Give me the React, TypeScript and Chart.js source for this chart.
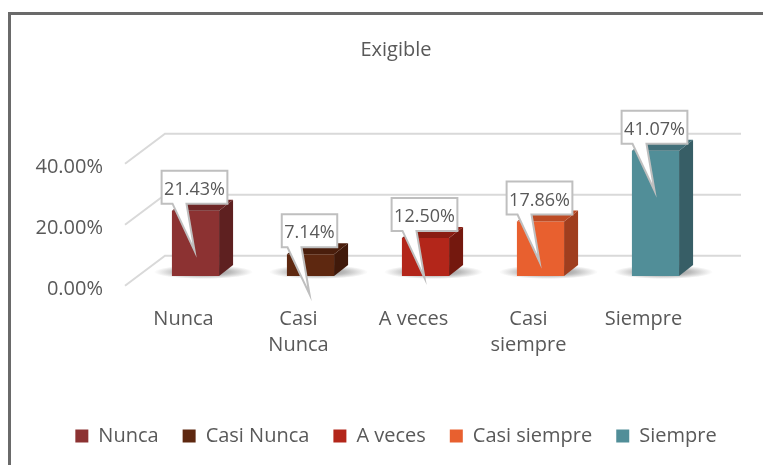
import React, { useEffect, useRef } from "react";
import { Chart, registerables } from "chart.js";

Chart.register(...registerables);

// ---- data ----
const chartTitle = "Exigible";
const categories = ["Nunca", "Casi Nunca", "A veces", "Casi siempre", "Siempre"];
const categoryLines = [["Nunca"], ["Casi", "Nunca"], ["A veces"], ["Casi", "siempre"], ["Siempre"]];
const percentages = [21.43, 7.14, 12.5, 17.86, 41.07];
const yTickValues = [0, 20, 40];
const yTickStep = 20;

// ---- styles ----
const frontColors = ["#8C3232", "#5E2810", "#B3261A", "#E8602F", "#518E98"];
const sideColors = ["#5E2020", "#40190A", "#74180E", "#A03E1E", "#375E66"];
const topColors = ["#6E2626", "#4A1E0C", "#8A1D12", "#BC4B25", "#42707A"];
const FONT = "'Open Sans', sans-serif";
const TEXT = "#595959";
const CANVAS_W = 790;
const CANVAS_H = 465;

const threeD = {
  id: "threeD",
  beforeDatasetsDraw(chart: any) {
    const { ctx, chartArea: a, scales } = chart;
    const y = scales.y;
    ctx.save();
    ctx.strokeStyle = "#d9d9d9";
    ctx.lineWidth = 2;
    for (const v of yTickValues) {
      const py = y.getPixelForValue(v);
      ctx.beginPath();
      ctx.moveTo(a.left - 13, py + 9.7);
      ctx.lineTo(a.left + 27, py - 20.3);
      ctx.lineTo(a.right + 28, py - 20.3);
      ctx.stroke();
    }
    const meta = chart.getDatasetMeta(0);
    meta.data.forEach((bar: any) => {
      const { x, base, width } = bar.getProps(["x", "base", "width"], true);
      const cx = x + 8;
      const cy = base - 4;
      const rx = width * 1.05;
      const ry = 7;
      ctx.save();
      ctx.translate(cx, cy);
      ctx.scale(1, ry / rx);
      const g = ctx.createRadialGradient(0, 0, 0, 0, 0, rx);
      g.addColorStop(0, "rgba(40,40,40,0.6)");
      g.addColorStop(0.55, "rgba(60,60,60,0.35)");
      g.addColorStop(1, "rgba(80,80,80,0)");
      ctx.fillStyle = g;
      ctx.beginPath();
      ctx.arc(0, 0, rx, 0, Math.PI * 2);
      ctx.fill();
      ctx.restore();
    });
    ctx.restore();
  },
  afterDatasetsDraw(chart: any) {
    const { ctx } = chart;
    const meta = chart.getDatasetMeta(0);
    const dx = 14;
    const dy = -11;
    ctx.save();
    meta.data.forEach((bar: any, i: number) => {
      const { x, y, base, width } = bar.getProps(["x", "y", "base", "width"], true);
      const l = x - width / 2;
      const r = x + width / 2;
      ctx.fillStyle = sideColors[i];
      ctx.beginPath();
      ctx.moveTo(r, y);
      ctx.lineTo(r + dx, y + dy);
      ctx.lineTo(r + dx, base + dy);
      ctx.lineTo(r, base);
      ctx.closePath();
      ctx.fill();
      ctx.fillStyle = topColors[i];
      ctx.beginPath();
      ctx.moveTo(l, y);
      ctx.lineTo(l + dx, y + dy);
      ctx.lineTo(r + dx, y + dy);
      ctx.lineTo(r, y);
      ctx.closePath();
      ctx.fill();
    });
    ctx.font = `18px ${FONT}`;
    meta.data.forEach((bar: any, i: number) => {
      const { x, y } = bar.getProps(["x", "y"], true);
      const label = percentages[i].toFixed(2) + "%";
      const tw = ctx.measureText(label).width;
      const bw = tw + 5;
      const bh = 33;
      const bx = x - 1;
      const bottom = y - 7;
      const top = bottom - bh;
      const left = bx - bw / 2;
      const right = bx + bw / 2;
      ctx.beginPath();
      ctx.moveTo(left, top);
      ctx.lineTo(right, top);
      ctx.lineTo(right, bottom);
      ctx.lineTo(bx - 8, bottom);
      ctx.lineTo(bx, bottom + 47);
      ctx.lineTo(bx - 22, bottom);
      ctx.lineTo(left, bottom);
      ctx.closePath();
      ctx.fillStyle = "#ffffff";
      ctx.fill();
      ctx.strokeStyle = "#bfbfbf";
      ctx.lineWidth = 2;
      ctx.lineJoin = "miter";
      ctx.stroke();
      ctx.fillStyle = TEXT;
      ctx.textAlign = "center";
      ctx.textBaseline = "middle";
      ctx.fillText(label, bx, (top + bottom) / 2 + 2.5);
    });
    ctx.restore();
  },
};

export default function App() {
  const ref = useRef<HTMLCanvasElement | null>(null);
  useEffect(() => {
    if (!ref.current) return;
    const chart = new Chart(ref.current, {
      type: "bar",
      data: {
        labels: categoryLines,
        datasets: [
          {
            label: chartTitle,
            data: percentages,
            backgroundColor: frontColors,
            borderWidth: 0,
            barPercentage: 0.41,
            categoryPercentage: 1,
          },
        ],
      },
      options: {
        responsive: false,
        animation: false,
        devicePixelRatio: 1,
        layout: { padding: { left: 20, right: 18, top: 0, bottom: 9 } },
        scales: {
          x: {
            grid: { display: false, drawTicks: false },
            border: { display: false },
            ticks: {
              color: TEXT,
              font: { family: FONT, size: 20, lineHeight: 1.3 },
              padding: 30,
              labelOffset: -12,
              maxRotation: 0,
              minRotation: 0,
              autoSkip: false,
            },
            afterFit: (s: any) => {
              s.height = 126;
            },
          },
          y: {
            min: 0,
            max: 50,
            grid: { display: false, drawTicks: false },
            border: { display: false },
            ticks: {
              stepSize: yTickStep,
              includeBounds: false,
              color: TEXT,
              font: { family: FONT, size: 20 },
              padding: 35,
              labelOffset: 13,
              callback: (v: any) => Number(v).toFixed(2) + "%",
            },
            afterFit: (s: any) => {
              s.width = 118;
            },
          },
          y2: {
            type: "linear",
            position: "right",
            display: true,
            grid: { display: false, drawTicks: false },
            border: { display: false },
            ticks: { display: false },
            afterFit: (s: any) => {
              s.width = 59;
            },
          },
        },
        plugins: {
          title: {
            display: true,
            text: chartTitle,
            color: TEXT,
            font: { family: FONT, size: 20, weight: "normal" },
            padding: { top: 38.6, bottom: 60.9 },
          },
          legend: {
            position: "bottom",
            labels: {
              boxWidth: 13,
              boxHeight: 13,
              padding: 24,
              color: TEXT,
              font: { family: FONT, size: 20 },
              generateLabels: () =>
                categories.map((c, i) => ({
                  text: c,
                  fillStyle: frontColors[i],
                  strokeStyle: frontColors[i],
                  lineWidth: 0,
                  hidden: false,
                  index: i,
                  datasetIndex: 0,
                  fontColor: TEXT,
                })),
            },
          },
          tooltip: { enabled: false },
        },
      } as any,
      plugins: [threeD],
    });
    return () => chart.destroy();
  }, []);

  return (
    <div
      style={{
        position: "fixed",
        left: 0,
        top: 0,
        width: 763,
        height: 465,
        overflow: "hidden",
        background: "#ffffff",
      }}
    >
      <div
        style={{
          position: "absolute",
          left: 8,
          top: 12,
          width: 800,
          height: 500,
          border: "3px solid #6a6a6a",
          boxSizing: "border-box",
          pointerEvents: "none",
        }}
      />
      <canvas
        ref={ref}
        width={CANVAS_W}
        height={CANVAS_H}
        style={{ position: "absolute", left: 0, top: 0, width: CANVAS_W, height: CANVAS_H }}
      />
    </div>
  );
}
